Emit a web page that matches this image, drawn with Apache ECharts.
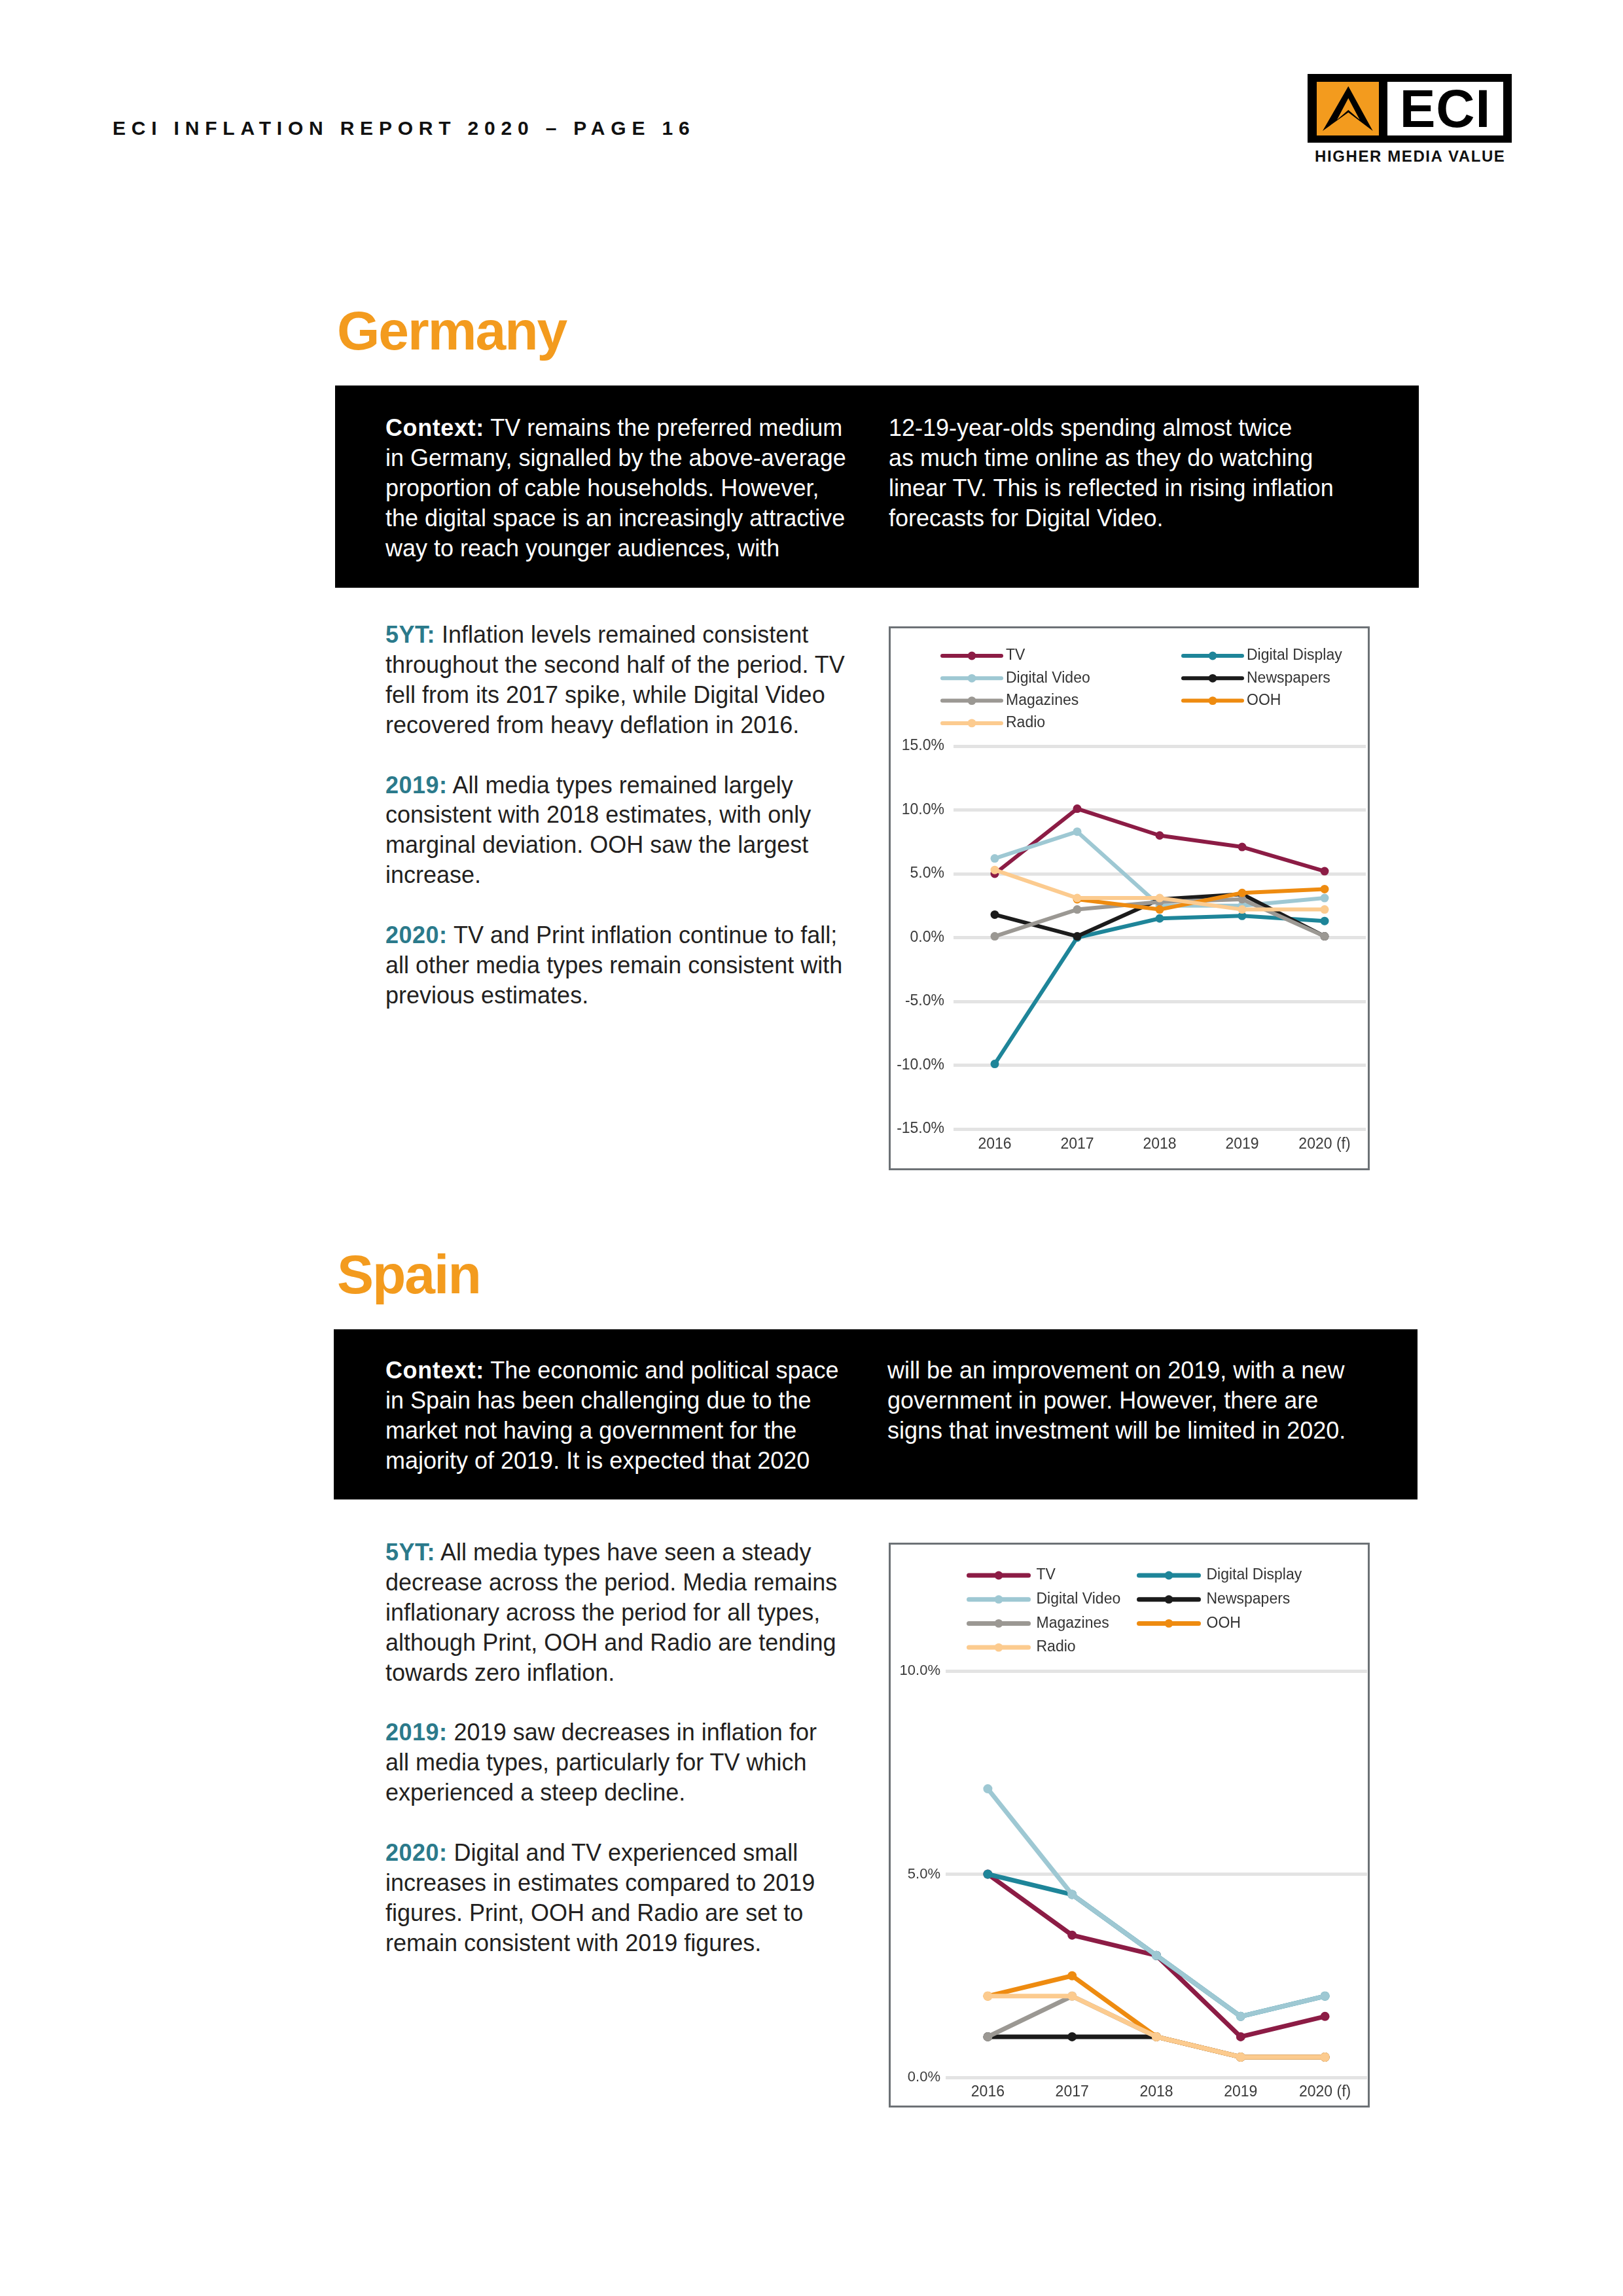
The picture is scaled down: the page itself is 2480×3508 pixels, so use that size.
<!DOCTYPE html>
<html><head><meta charset="utf-8">
<script src="https://cdn.jsdelivr.net/npm/echarts@6/dist/echarts.min.js"></script>
<style>
html,body{margin:0;padding:0;background:#fff;}
body{width:2480px;height:3508px;position:relative;overflow:hidden;font-family:"Liberation Sans",Arial,sans-serif;}
.abs{position:absolute;}
.hdr{left:172px;top:178px;font-size:30px;font-weight:bold;letter-spacing:8.8px;line-height:36px;color:#111;white-space:nowrap;}
.title{font-size:84px;font-weight:bold;color:#F39B1E;letter-spacing:-2px;line-height:84px;white-space:nowrap;}
.box{background:#000;}
.txt{font-size:36px;line-height:45.9px;white-space:nowrap;}
.ctx{color:#fff;}
.ctx b{letter-spacing:0.6px;}
.body{color:#231f20;}
.lbl{font-weight:bold;color:#2B7A8B;letter-spacing:0.5px;}
.frame{border:3px solid #6d7276;box-sizing:border-box;pointer-events:none;}
.logo{left:1998px;top:113px;width:312px;height:105px;background:#000;}
.logo .org{position:absolute;left:14px;top:12px;width:95px;height:82px;background:#F39B1E;}
.logo .wht{position:absolute;left:122px;top:12px;width:177px;height:82px;background:#fff;display:flex;align-items:center;justify-content:center;font-weight:bold;font-size:82px;line-height:82px;color:#000;letter-spacing:1px;}
.tag{left:2009px;top:226px;width:312px;font-size:24px;font-weight:bold;letter-spacing:1.6px;color:#111;white-space:nowrap;line-height:26px;}
</style></head>
<body>
<div class="abs hdr">ECI INFLATION REPORT 2020 – PAGE 16</div>
<div class="abs logo">
  <div class="org"><svg width="95" height="82" viewBox="0 0 95 82"><polygon points="48.3,6.7 85.7,75 48.3,46.7 9,75" fill="#000"/><polygon points="48.3,25 65.7,58 48.3,43 31,58" fill="#F39B1E"/></svg></div>
  <div class="wht">ECI</div>
</div>
<div class="abs tag">HIGHER MEDIA VALUE</div>

<div class="abs title" style="left:515px;top:463px;">Germany</div>
<div class="abs box" style="left:512px;top:589px;width:1656px;height:309px;"></div>
<div class="abs txt ctx" style="left:589px;top:631px;"><b>Context:</b> TV remains the preferred medium<br>in Germany, signalled by the above-average<br>proportion of cable households. However,<br>the digital space is an increasingly attractive<br>way to reach younger audiences, with</div>
<div class="abs txt ctx" style="left:1358px;top:631px;">12-19-year-olds spending almost twice<br>as much time online as they do watching<br>linear TV. This is reflected in rising inflation<br>forecasts for Digital Video.</div>
<div class="abs txt body" style="left:589px;top:947px;"><span class="lbl">5YT:</span> Inflation levels remained consistent<br>throughout the second half of the period. TV<br>fell from its 2017 spike, while Digital Video<br>recovered from heavy deflation in 2016.<br><br><span class="lbl">2019:</span> All media types remained largely<br>consistent with 2018 estimates, with only<br>marginal deviation. OOH saw the largest<br>increase.<br><br><span class="lbl">2020:</span> TV and Print inflation continue to fall;<br>all other media types remain consistent with<br>previous estimates.</div>

<div id="de" class="abs" style="left:1358px;top:957px;width:735px;height:831px;"></div>
<div class="abs frame" style="left:1358px;top:957px;width:735px;height:831px;"></div>

<div class="abs title" style="left:515px;top:1905px;">Spain</div>
<div class="abs box" style="left:510px;top:2031px;width:1656px;height:260px;"></div>
<div class="abs txt ctx" style="left:589px;top:2071px;"><b>Context:</b> The economic and political space<br>in Spain has been challenging due to the<br>market not having a government for the<br>majority of 2019. It is expected that 2020</div>
<div class="abs txt ctx" style="left:1356px;top:2071px;">will be an improvement on 2019, with a new<br>government in power. However, there are<br>signs that investment will be limited in 2020.</div>
<div class="abs txt body" style="left:589px;top:2349px;"><span class="lbl">5YT:</span> All media types have seen a steady<br>decrease across the period. Media remains<br>inflationary across the period for all types,<br>although Print, OOH and Radio are tending<br>towards zero inflation.<br><br><span class="lbl">2019:</span> 2019 saw decreases in inflation for<br>all media types, particularly for TV which<br>experienced a steep decline.<br><br><span class="lbl">2020:</span> Digital and TV experienced small<br>increases in estimates compared to 2019<br>figures. Print, OOH and Radio are set to<br>remain consistent with 2019 figures.</div>

<div id="es" class="abs" style="left:1358px;top:2357px;width:735px;height:863px;"></div>
<div class="abs frame" style="left:1358px;top:2357px;width:735px;height:863px;"></div>

<script>
// ---- data ----
const years = ['2016', '2017', '2018', '2019', '2020 (f)'];
const mediaNames = ['TV', 'Digital Display', 'Digital Video', 'Newspapers', 'Magazines', 'OOH', 'Radio'];
const leftLegend = ['TV', 'Digital Video', 'Magazines', 'Radio'];
const rightLegend = ['Digital Display', 'Newspapers', 'OOH'];

// Germany (%)
const deTV = [5.0, 10.1, 8.0, 7.1, 5.2];
const deDigitalDisplay = [-9.9, 0.0, 1.5, 1.7, 1.3];
const deDigitalVideo = [6.2, 8.3, 2.5, 2.5, 3.1];
const deNewspapers = [1.8, 0.1, 3.0, 3.4, 0.1];
const deMagazines = [0.1, 2.2, 2.8, 3.0, 0.1];
const deOOH = [null, 3.0, 2.2, 3.5, 3.8];
const deRadio = [5.3, 3.1, 3.1, 2.2, 2.2];

// Spain (%)
const esTV = [5.0, 3.5, 3.0, 1.0, 1.5];
const esDigitalDisplay = [5.0, 4.5, 3.0, 1.5, 2.0];
const esDigitalVideo = [7.1, 4.5, 3.0, 1.5, 2.0];
const esNewspapers = [1.0, 1.0, 1.0, 0.5, 0.5];
const esMagazines = [1.0, 2.0, 1.0, 0.5, 0.5];
const esOOH = [2.0, 2.5, 1.0, 0.5, 0.5];
const esRadio = [2.0, 2.0, 1.0, 0.5, 0.5];

const deTicks = {min: -15, max: 15, interval: 5};
const esTicks = {min: 0, max: 10, interval: 5};

// ---- styles ----
const colors = {
  'TV': '#8C1C45',
  'Digital Display': '#1E8599',
  'Digital Video': '#9EC8D3',
  'Newspapers': '#1b1b1b',
  'Magazines': '#9B9893',
  'OOH': '#EE8B10',
  'Radio': '#FCCB8F'
};
const FONT = '"Liberation Sans", Arial, sans-serif';

function buildOption(dataList, ticks, L) {
  const series = mediaNames.map((n, i) => ({
    name: n, type: 'line', data: dataList[i],
    symbol: 'circle', symbolSize: L.sym, showSymbol: true,
    connectNulls: false,
    lineStyle: {width: L.lw, color: colors[n], join: 'round', cap: 'round'},
    itemStyle: {color: colors[n]},
    emphasis: {disabled: true},
    z: 2 + i
  }));
  const legendCommon = {
    orient: 'vertical', selectedMode: false,
    itemWidth: L.iw, itemHeight: 16, itemGap: L.gap,
    lineStyle: {width: L.lw, cap: 'round'},
    textStyle: {fontFamily: FONT, fontSize: 23, color: '#333', lineHeight: 24, padding: [0, 0, 0, L.tpad]}
  };
  return {
    animation: false,
    backgroundColor: '#fff',
    legend: [
      Object.assign({}, legendCommon, {data: leftLegend, left: L.legL, top: L.legT}),
      Object.assign({}, legendCommon, {data: rightLegend, left: L.legR, top: L.legT})
    ],
    grid: {left: L.gl, right: L.gr, top: L.gt, bottom: L.gb, containLabel: false, outerBoundsMode: 'none'},
    xAxis: {
      type: 'category', data: years, boundaryGap: true,
      axisLine: {show: false}, axisTick: {show: false},
      axisLabel: {fontFamily: FONT, fontSize: 23, color: '#3a3a3a', margin: L.xm}
    },
    yAxis: {
      type: 'value', min: ticks.min, max: ticks.max, interval: ticks.interval,
      axisLine: {show: false}, axisTick: {show: false},
      splitLine: {show: true, lineStyle: {color: '#e3e3e3', width: 5}},
      axisLabel: {fontFamily: FONT, fontSize: L.yfs, color: '#3a3a3a', margin: L.ym,
        formatter: v => v.toFixed(1) + '%'}
    },
    series: series
  };
}

const de = echarts.init(document.getElementById('de'));
de.setOption(buildOption(
  [deTV, deDigitalDisplay, deDigitalVideo, deNewspapers, deMagazines, deOOH, deRadio], deTicks,
  {sym: 13, lw: 6, iw: 90, gap: 10.3, tpad: 2, legL: 74, legR: 442, legT: 28,
   gl: 99, gr: 6, gt: 183, gb: 63, xm: 12, ym: 14, yfs: 23}));

const es = echarts.init(document.getElementById('es'));
es.setOption(buildOption(
  [esTV, esDigitalDisplay, esDigitalVideo, esNewspapers, esMagazines, esOOH, esRadio], esTicks,
  {sym: 14, lw: 7, iw: 91, gap: 12.7, tpad: 7, legL: 114, legR: 374, legT: 33,
   gl: 87, gr: 4, gt: 196, gb: 46, xm: 11, ym: 8, yfs: 22}));
</script>
</body></html>
